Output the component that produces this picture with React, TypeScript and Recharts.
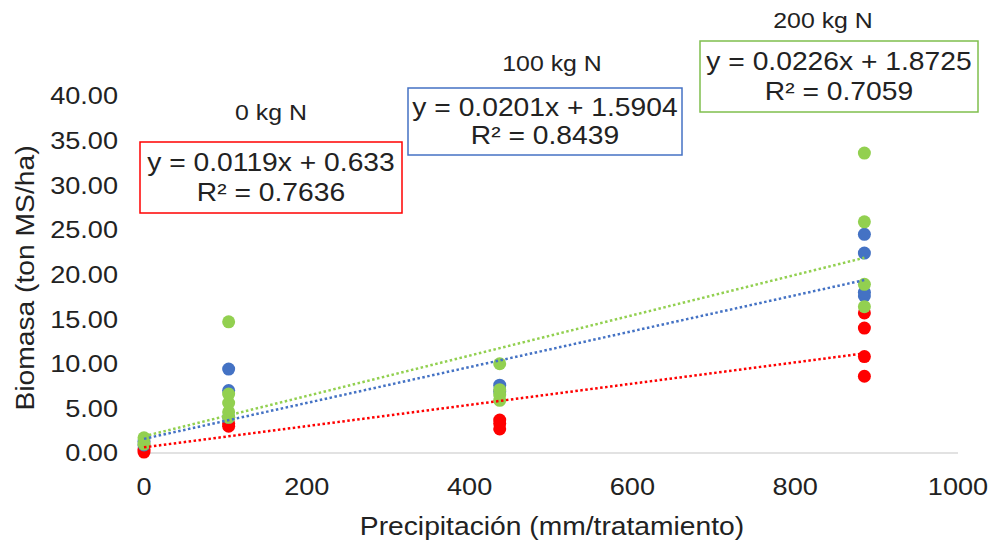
import React from 'react'
import { ScatterChart, Scatter, XAxis, YAxis } from 'recharts'

// precipitation levels (mm/tratamiento)
const lluvia = [0, 104, 437, 885]

// biomass readings per precipitation level, one list per N rate
const n0 = [[0.1, 0.4], [3.0, 3.3], [2.7, 3.3, 3.7], [8.6, 10.8, 14.0, 15.7]]
const n100 = [[0.9, 1.3], [4.0, 7.0, 9.4], [6.9, 7.6], [17.6, 18.0, 22.4, 24.5]]
const n200 = [[1.0, 1.7], [4.0, 4.6, 5.6, 6.6, 14.7], [5.9, 6.5, 7.1, 10.0], [16.4, 18.9, 25.9, 33.6]]

// linear trendlines: slope, intercept, R²
const tratamientos = ['0 kg N', '100 kg N', '200 kg N']
const pendientes = [0.0119, 0.0201, 0.0226]
const intercepts = [0.633, 1.5904, 1.8725]
const r2 = [0.7636, 0.8439, 0.7059]

const xTicks = [0, 200, 400, 600, 800, 1000]
const yTicks = [0, 5, 10, 15, 20, 25, 30, 35, 40]

const colores = ['#FF0000', '#4472C4', '#92D050']
const bordes = ['#FF0000', '#4472C4', '#7FBF4D']

const FONT = '"Liberation Sans", Arial, sans-serif'
const TXT = '#222222'
const SX = 1.13

const W = 997
const H = 543

const toPoints = (groups: number[][]) =>
  groups.flatMap((vals, i) => vals.map(v => ({ x: lluvia[i], y: v })))

const trend = (k: number) => {
  const last = lluvia[lluvia.length - 1]
  return [
    { x: 0, y: intercepts[k] },
    { x: last, y: pendientes[k] * last + intercepts[k] },
  ]
}

const fmtEq = (k: number) =>
  `y = ${pendientes[k]}x + ${intercepts[k]}`

const Dot = (color: string) => (p: any) =>
  <circle cx={p.cx} cy={p.cy} r={6.5} fill={color} />

const NoDot = () => <g />

const STxt = ({ x, y, size, children, anchor = 'middle', rotate = 0 }: any) => (
  <text
    transform={`translate(${x} ${y}) rotate(${rotate}) scale(${SX} 1)`}
    textAnchor={anchor}
    dy="0.35em"
    fontFamily={FONT}
    fontSize={size}
    fill={TXT}
  >
    {children}
  </text>
)

const XTick = (p: any) => (
  <STxt x={p.x} y={p.y + 34} size={24}>{p.payload.value}</STxt>
)

const YTick = (p: any) => (
  <STxt x={p.x} y={p.y} size={24} anchor="end">{p.payload.value.toFixed(2)}</STxt>
)

// equation boxes: [left, top, right, bottom], title centre
const cajas = [
  { box: [140, 142, 402, 213], title: [271, 112] },
  { box: [408, 88, 682, 155], title: [552, 63] },
  { box: [700, 41, 978, 112], title: [823, 20] },
]

const Anotaciones = () => (
  <svg width={W} height={H} style={{ position: 'absolute', left: 0, top: 0, pointerEvents: 'none' }}>
    <STxt x={25} y={278} size={25} rotate={-90}>Biomasa (ton MS/ha)</STxt>
    <STxt x={552} y={526} size={25}>Precipitación (mm/tratamiento)</STxt>
    {cajas.map((c, k) => {
      const [l, t, r, b] = c.box
      const cx = (l + r) / 2
      const h = b - t
      return (
        <g key={k}>
          <STxt x={c.title[0]} y={c.title[1]} size={22}>{tratamientos[k]}</STxt>
          <rect x={l} y={t} width={r - l} height={h} fill="#fff" stroke={bordes[k]} strokeWidth={1.5} />
          <STxt x={cx} y={t + h * 0.29} size={25}>{fmtEq(k)}</STxt>
          <STxt x={cx} y={t + h * 0.71} size={25}>R² = {r2[k]}</STxt>
        </g>
      )
    })}
  </svg>
)

const series = [n0, n100, n200]

export default function App() {
  return (
    <div style={{ position: 'absolute', left: 0, top: 0, width: W, height: H, background: '#fff' }}>
      <ScatterChart width={W} height={H} margin={{ top: 96, right: 39, left: 0, bottom: 0 }}>
        <XAxis
          type="number"
          dataKey="x"
          domain={[0, 1000]}
          ticks={xTicks}
          height={90}
          tickLine={false}
          tickSize={0}
          tickMargin={0}
          axisLine={{ stroke: '#D9D9D9', strokeWidth: 1.5 }}
          tick={XTick}
        />
        <YAxis
          type="number"
          dataKey="y"
          domain={[0, 40]}
          ticks={yTicks}
          width={144}
          axisLine={false}
          tickLine={false}
          tickSize={0}
          tickMargin={26}
          tick={YTick}
        />
        {series.map((s, k) => (
          <Scatter
            key={`pts${k}`}
            data={toPoints(s)}
            shape={Dot(colores[k])}
            isAnimationActive={false}
          />
        ))}
        {series.map((_, k) => (
          <Scatter
            key={`tr${k}`}
            data={trend(k)}
            line={{ stroke: colores[k], strokeWidth: 2.5, strokeDasharray: '2.5 2.5' }}
            shape={NoDot}
            isAnimationActive={false}
          />
        ))}
      </ScatterChart>
      <Anotaciones />
    </div>
  )
}
